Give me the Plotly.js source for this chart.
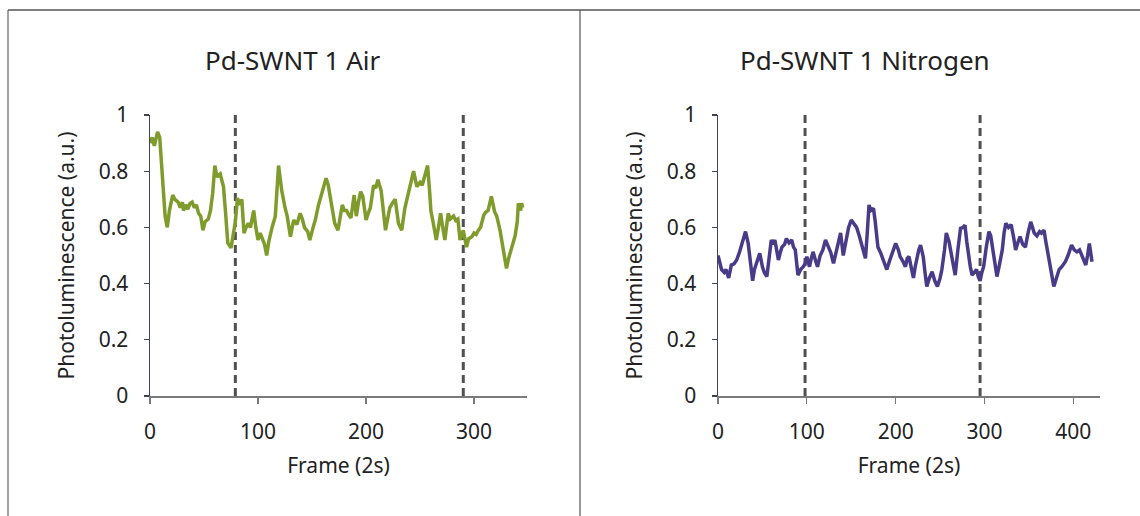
<!DOCTYPE html>
<html>
<head>
<meta charset="utf-8">
<script src="https://cdn.plot.ly/plotly-3.0.1.min.js"></script>
<style>html,body{margin:0;padding:0;background:#fff;}#chart{width:1140px;height:516px;}</style>
</head>
<body>
<div id="chart"></div>
<script>
// ---- Data ----
const airFrames = [0,2,4,7,9,11,13,14,16,18,21,23,26,28,30,31,33,35,37,39,41,43,45,47,49,51,54,56,58,60,62,65,67,68,70,72,75,77,79,81,83,85,87,89,91,93,96,98,100,102,104,106,108,110,113,116,119,122,125,127,130,133,136,139,141,143,146,148,151,153,156,159,161,163,165,167,169,171,174,176,178,180,182,184,186,189,191,193,195,197,200,202,204,207,209,211,214,216,218,220,222,225,227,230,233,236,238,241,244,247,250,252,255,257,259,260,262,265,267,269,271,273,276,278,281,283,285,287,290,293,295,298,300,302,304,306,309,311,313,316,319,321,324,327,329,330,332,335,338,340,341,343,344,345];
const airValues = [0.90,0.92,0.89,0.94,0.92,0.80,0.68,0.64,0.60,0.66,0.715,0.70,0.69,0.67,0.69,0.66,0.68,0.665,0.685,0.69,0.67,0.68,0.65,0.64,0.59,0.62,0.63,0.66,0.72,0.82,0.78,0.79,0.76,0.745,0.65,0.545,0.527,0.58,0.62,0.705,0.68,0.70,0.58,0.60,0.615,0.60,0.66,0.60,0.555,0.58,0.56,0.54,0.50,0.55,0.60,0.64,0.82,0.73,0.67,0.64,0.567,0.626,0.61,0.65,0.63,0.60,0.585,0.555,0.60,0.626,0.68,0.72,0.74,0.775,0.75,0.71,0.66,0.615,0.59,0.64,0.68,0.66,0.66,0.645,0.633,0.715,0.64,0.69,0.727,0.71,0.626,0.65,0.67,0.75,0.74,0.77,0.73,0.66,0.59,0.63,0.67,0.69,0.70,0.615,0.59,0.67,0.70,0.745,0.80,0.745,0.76,0.75,0.80,0.82,0.72,0.66,0.62,0.555,0.60,0.65,0.60,0.555,0.65,0.63,0.64,0.625,0.63,0.555,0.59,0.53,0.56,0.567,0.58,0.575,0.59,0.60,0.644,0.655,0.66,0.71,0.656,0.64,0.59,0.53,0.49,0.454,0.49,0.53,0.57,0.62,0.686,0.66,0.686,0.67];

const n2Frames = [0,2,4,7,9,12,15,18,21,24,27,29,31,34,36,39,41,44,47,50,52,55,57,60,62,64,66,68,70,72,75,77,80,83,85,87,90,93,96,98,100,103,105,107,110,112,115,118,121,124,127,130,134,136,138,141,144,147,150,153,156,159,162,164,166,168,170,172,175,177,180,183,186,188,190,193,195,198,200,203,205,208,211,213,215,218,220,222,224,226,228,231,233,235,238,241,244,247,250,252,255,257,260,262,265,267,270,273,276,278,280,282,284,286,289,291,293,295,297,299,302,305,307,309,311,314,317,320,322,324,327,330,333,335,338,340,343,346,349,352,354,356,359,362,364,367,369,372,375,378,381,384,387,391,394,398,401,404,407,410,412,414,416,418,420,421];
const n2Values = [0.50,0.47,0.45,0.44,0.45,0.42,0.466,0.47,0.484,0.51,0.543,0.56,0.585,0.543,0.49,0.41,0.45,0.484,0.508,0.46,0.44,0.425,0.48,0.555,0.54,0.555,0.52,0.484,0.51,0.53,0.54,0.56,0.545,0.555,0.53,0.52,0.43,0.45,0.46,0.47,0.496,0.46,0.49,0.513,0.48,0.46,0.50,0.52,0.555,0.53,0.51,0.472,0.53,0.55,0.58,0.50,0.56,0.60,0.626,0.61,0.60,0.57,0.537,0.52,0.49,0.58,0.68,0.66,0.668,0.62,0.53,0.51,0.484,0.47,0.45,0.48,0.496,0.52,0.543,0.52,0.496,0.48,0.46,0.49,0.496,0.45,0.42,0.46,0.50,0.52,0.537,0.496,0.44,0.39,0.42,0.442,0.41,0.39,0.42,0.45,0.52,0.58,0.55,0.52,0.47,0.43,0.52,0.597,0.60,0.608,0.55,0.496,0.46,0.43,0.44,0.45,0.425,0.41,0.44,0.46,0.53,0.585,0.57,0.53,0.48,0.425,0.47,0.52,0.58,0.615,0.60,0.61,0.56,0.52,0.55,0.567,0.54,0.53,0.58,0.62,0.60,0.58,0.57,0.585,0.58,0.59,0.55,0.496,0.44,0.39,0.42,0.45,0.46,0.478,0.50,0.537,0.52,0.513,0.52,0.50,0.48,0.466,0.50,0.543,0.50,0.478];

const airMarkers = [79, 290];
const n2Markers = [98, 295];
const markerSpan = [0, 1];

const titles = ["Pd-SWNT 1 Air", "Pd-SWNT 1 Nitrogen"];
const xTitle = "Frame (2s)";
const yTitle = "Photoluminescence (a.u.)";
const yTickVals = [0, 0.2, 0.4, 0.6, 0.8, 1];
const yTickText = ["0", "0.2", "0.4", "0.6", "0.8", "1"];
const airXTicks = [0, 100, 200, 300];
const n2XTicks = [0, 100, 200, 300, 400];

// ---- Build ----
const W = 1140, H = 516;
const px = v => v / W;
const py = v => (H - v) / H;
const FONT = "Noto Sans, Open Sans, sans-serif";

const traces = [];
function markerTraces(vals, xa, ya) {
  vals.forEach(v => traces.push({
    x: [v, v], y: markerSpan, xaxis: xa, yaxis: ya, mode: 'lines',
    line: {color: '#505050', width: 3, dash: '8px,5px'}, hoverinfo: 'skip', showlegend: false
  }));
}
markerTraces(airMarkers, 'x', 'y');
markerTraces(n2Markers, 'x2', 'y2');
traces.push({x: airFrames, y: airValues, xaxis: 'x', yaxis: 'y', mode: 'lines',
  line: {color: '#7f9b2c', width: 3.5}, showlegend: false});
traces.push({x: n2Frames, y: n2Values, xaxis: 'x2', yaxis: 'y2', mode: 'lines',
  line: {color: '#4a3b88', width: 3.5}, showlegend: false});

function xAxis(domain, range, ticks) {
  return {
    domain: domain, range: range, tickvals: ticks, ticktext: ticks.map(String),
    showgrid: false, zeroline: false, showline: true, linecolor: '#7a7a7a', linewidth: 1.5,
    ticks: 'outside', ticklen: 6, tickcolor: '#7a7a7a', tickwidth: 1.2,
    ticklabelstandoff: 10,
    tickfont: {family: FONT, size: 21, color: '#222'},
    title: {text: xTitle, font: {family: FONT, size: 21, color: '#222'}, standoff: 14}
  };
}
function yAxis(domain, anchor) {
  return {
    domain: domain, range: [0, 1], anchor: anchor, tickvals: yTickVals, ticktext: yTickText,
    showgrid: false, zeroline: false, showline: true, linecolor: '#3f4258', linewidth: 1.5,
    ticks: 'outside', ticklen: 5, tickcolor: '#3f4258', tickwidth: 1.2,
    ticklabelstandoff: 11,
    tickfont: {family: FONT, size: 21, color: '#222'},
    title: {text: yTitle, font: {family: FONT, size: 21, color: '#222'}, standoff: 18}
  };
}

const yDom = [py(396), py(115)];
const layout = {
  width: W, height: H,
  margin: {l: 0, r: 0, t: 0, b: 0},
  paper_bgcolor: '#fff', plot_bgcolor: 'rgba(0,0,0,0)',
  showlegend: false,
  xaxis: Object.assign(xAxis([px(150), px(527)], [0, 349], airXTicks), {anchor: 'y'}),
  yaxis: yAxis(yDom, 'x'),
  xaxis2: Object.assign(xAxis([px(718), px(1100)], [0, 430], n2XTicks), {anchor: 'y2'}),
  yaxis2: yAxis(yDom, 'x2'),
  annotations: [
    {text: titles[0], x: px(292), y: py(60), xref: 'paper', yref: 'paper', showarrow: false,
     xanchor: 'center', yanchor: 'middle', font: {family: FONT, size: 26, color: '#222'}},
    {text: titles[1], x: px(865), y: py(60), xref: 'paper', yref: 'paper', showarrow: false,
     xanchor: 'center', yanchor: 'middle', font: {family: FONT, size: 26, color: '#222'}}
  ],
  shapes: [
    {type: 'line', xref: 'paper', yref: 'paper', x0: px(8), x1: 1, y0: py(10), y1: py(10), line: {color: '#555', width: 1.5}},
    {type: 'line', xref: 'paper', yref: 'paper', x0: px(8), x1: px(8), y0: py(10), y1: 0, line: {color: '#666', width: 1.2}},
    {type: 'line', xref: 'paper', yref: 'paper', x0: px(580), x1: px(580), y0: py(10), y1: 0, line: {color: '#555', width: 1.2}}
  ]
};

Plotly.newPlot('chart', traces, layout, {staticPlot: true, displayModeBar: false});
</script>
</body>
</html>
